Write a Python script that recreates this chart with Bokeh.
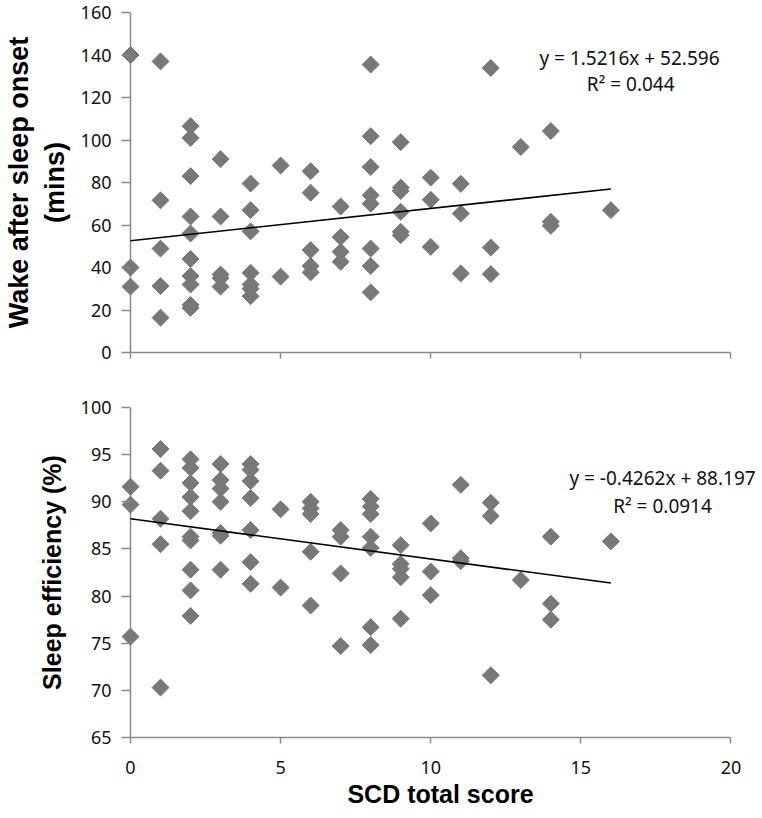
import numpy as np
from bokeh.plotting import figure
from bokeh.layouts import column
from bokeh.models import Range1d, FixedTicker, Label, LinearAxis, Span
from bokeh.embed import file_html
from bokeh.resources import INLINE

# ---------------- data ----------------
scd_top = ([0] * 3 + [1] * 5 + [2] * 10 + [3] * 5 + [4] * 7 + [5] * 2 + [6] * 5 + [7] * 4
           + [8] * 8 + [9] * 6 + [10] * 3 + [11] * 3 + [12] * 3 + [13] * 1 + [14] * 3 + [16] * 1)
waso = [140, 40, 31,
        137, 71.6, 48.9, 31.3, 16.4,
        106.5, 101, 83, 64, 56, 44, 36, 32, 22.4, 21,
        91, 64, 36.7, 35, 31,
        79.5, 67, 57, 37.5, 32, 30, 26.5,
        88, 35.7,
        85.3, 75.2, 48.2, 40.7, 37.7,
        68.7, 54.3, 47.4, 42.7,
        135.5, 101.8, 87.3, 74, 70, 48.9, 40.7, 28.3,
        99, 77.6, 76, 66.2, 56.8, 55.2,
        82.3, 71.9, 49.7,
        79.4, 65.4, 37.2,
        133.9, 49.4, 36.9,
        96.7,
        104.2, 61.5, 59.6,
        67]

scd_bottom = ([0] * 3 + [1] * 5 + [2] * 10 + [3] * 7 + [4] * 7 + [5] * 2 + [6] * 5 + [7] * 4
              + [8] * 7 + [9] * 5 + [10] * 3 + [11] * 3 + [12] * 3 + [13] * 1 + [14] * 3 + [16] * 1)
sleep_eff = [91.6, 89.7, 75.7,
             95.6, 93.3, 88.2, 85.5, 70.3,
             94.5, 93.6, 92.0, 90.5, 89.0, 86.3, 85.9, 82.8, 80.6, 77.9,
             94.0, 92.3, 91.4, 90.0, 86.7, 86.4, 82.8,
             94.0, 93.4, 92.2, 90.4, 87.0, 83.6, 81.3,
             89.2, 80.9,
             90.0, 89.3, 88.7, 84.7, 79.0,
             87.0, 86.3, 82.4, 74.7,
             90.3, 89.5, 88.7, 86.3, 85.1, 76.7, 74.8,
             85.4, 83.4, 82.9, 82.0, 77.6,
             87.7, 82.6, 80.1,
             91.8, 84.0, 83.7,
             89.9, 88.5, 71.6,
             81.7,
             86.3, 79.2, 77.5,
             85.8]

waso_slope, waso_intercept = 1.5216, 52.596
se_slope, se_intercept = -0.4262, 88.197
waso_eq_text = "y = 1.5216x + 52.596"
waso_r2_text = "R\u00b2 = 0.044"
se_eq_text = "y = -0.4262x + 88.197"
se_r2_text = "R\u00b2 = 0.0914"

x_ticks = [0, 5, 10, 15, 20]
waso_ticks = [0, 20, 40, 60, 80, 100, 120, 140, 160]
se_ticks = [65, 70, 75, 80, 85, 90, 95, 100]

x_title = "SCD total score"
waso_title_1 = "Wake after sleep onset"
waso_title_2 = "(mins)"
se_title = "Sleep efficiency (%)"

# ---------------- style ----------------
MARK = "#787878"
AXIS = "#8a8a8a"
TICK_FONT = "Noto Sans"
TITLE_FONT = "Liberation Sans"
X_START, X_END = -0.3, 20.95
W = 760


def style_axis_title(ax, size="25px"):
    ax.axis_label_text_font = TITLE_FONT
    ax.axis_label_text_font_style = "bold"
    ax.axis_label_text_font_size = size
    ax.axis_label_text_color = "black"


def style(p, show_x_labels):
    p.outline_line_color = None
    p.xgrid.grid_line_color = None
    p.ygrid.grid_line_color = None
    p.background_fill_color = "white"
    p.border_fill_color = "white"
    for ax in (p.xaxis[0], p.yaxis[0]):
        ax.axis_line_color = AXIS
        ax.axis_line_width = 1.5
        ax.major_tick_line_color = AXIS
        ax.major_tick_line_width = 1.5
        ax.minor_tick_line_color = None
        ax.major_label_text_font = TICK_FONT
        ax.major_label_text_font_size = "18px"
        ax.major_label_text_color = "#111111"
    # x axis: only drawn over the 0..20 span
    xa = p.xaxis[0]
    xa.ticker = FixedTicker(ticks=x_ticks)
    xa.bounds = (x_ticks[0], x_ticks[-1])
    xa.major_tick_out = 6
    xa.major_tick_in = 0
    # y axis sits at the frame edge; its ticks run in to the x = 0 line
    ya = p.yaxis[0]
    ya.axis_line_color = None
    ya.major_tick_out = 0
    ya.major_tick_in = 9
    ya.major_label_standoff = 10
    style_axis_title(ya)
    p.add_layout(Span(location=0, dimension="height", line_color=AXIS,
                      line_width=1.5, level="underlay"))
    if not show_x_labels:
        xa.major_label_text_color = None
    else:
        xa.major_label_standoff = 17


def add_points_and_fit(p, xs, ys, slope, intercept):
    p.scatter(xs, ys, marker="square", angle=np.pi / 4, size=12,
              fill_color=MARK, line_color=MARK)
    fx = np.array([min(xs), max(xs)], dtype=float)
    p.line(fx, slope * fx + intercept, line_color="black", line_width=1.6)


eq_kw = dict(text_font=TICK_FONT, text_font_size="19px", text_color="#111111",
             text_align="center", text_baseline="middle")

# ---------------- top panel ----------------
p1 = figure(width=W, height=390, x_range=Range1d(X_START, X_END), y_range=Range1d(0, 160),
            output_backend="svg", toolbar_location=None,
            min_border_left=121, min_border_right=1, min_border_top=12, min_border_bottom=38)
style(p1, show_x_labels=False)
p1.yaxis[0].ticker = FixedTicker(ticks=waso_ticks)
p1.yaxis[0].axis_label = waso_title_2
style_axis_title(p1.yaxis[0], "27px")
p1.yaxis[0].axis_label_standoff = 8
outer = LinearAxis(axis_label=waso_title_1, ticker=FixedTicker(ticks=[]),
                   axis_line_color=None, major_tick_line_color=None,
                   minor_tick_line_color=None, major_tick_in=0, major_tick_out=0,
                   minor_tick_in=0, minor_tick_out=0, major_label_standoff=0,
                   axis_label_standoff=3)
style_axis_title(outer, "27px")
p1.add_layout(outer, "left")
add_points_and_fit(p1, scd_top, waso, waso_slope, waso_intercept)
p1.add_layout(Label(x=16.62, y=138.5, text=waso_eq_text, **eq_kw))
p1.add_layout(Label(x=16.66, y=126.3, text=waso_r2_text, **eq_kw))

# ---------------- bottom panel ----------------
p2 = figure(width=W, height=426, x_range=Range1d(X_START, X_END), y_range=Range1d(65, 100),
            output_backend="svg", toolbar_location=None,
            min_border_left=121, min_border_right=1, min_border_top=17, min_border_bottom=79)
style(p2, show_x_labels=True)
p2.yaxis[0].ticker = FixedTicker(ticks=se_ticks)
p2.yaxis[0].axis_label = se_title
p2.yaxis[0].axis_label_standoff = 12
p2.xaxis[0].axis_label = x_title
style_axis_title(p2.xaxis[0], "25px")
p2.xaxis[0].axis_label_standoff = 3
add_points_and_fit(p2, scd_bottom, sleep_eff, se_slope, se_intercept)
p2.add_layout(Label(x=17.72, y=92.47, text=se_eq_text, **eq_kw))
p2.add_layout(Label(x=17.72, y=89.6, text=se_r2_text, **eq_kw))

layout = column(p1, p2)
open("out.html", "w").write(file_html(layout, INLINE))
